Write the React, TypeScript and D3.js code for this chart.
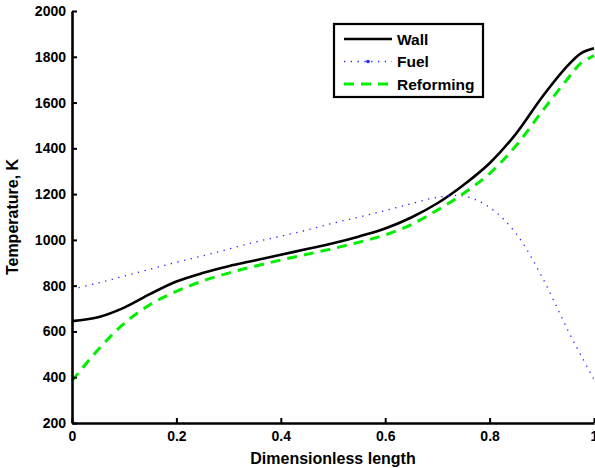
import React, { useEffect, useRef } from "react";
import * as d3 from "d3";

// dimensionless length positions
const xs = [0, 0.05, 0.1, 0.15, 0.2, 0.25, 0.3, 0.35, 0.4, 0.45, 0.5, 0.55, 0.6, 0.65, 0.7, 0.75, 0.8, 0.85, 0.9, 0.95, 0.975, 1.0];

// temperatures, K
const wall = [645, 662, 704, 764, 818, 855, 885, 910, 935, 960, 985, 1015, 1050, 1098, 1160, 1240, 1335, 1462, 1622, 1762, 1815, 1837];
const fuel = [785, 812, 842, 872, 902, 930, 960, 990, 1016, 1043, 1073, 1100, 1128, 1158, 1186, 1192, 1142, 1030, 840, 605, 495, 390];
const reforming = [384, 520, 635, 718, 775, 820, 855, 885, 912, 937, 962, 990, 1022, 1067, 1130, 1203, 1290, 1410, 1560, 1705, 1772, 1805];

const xTicks = [0, 0.2, 0.4, 0.6, 0.8, 1];
const yTicks = [200, 400, 600, 800, 1000, 1200, 1400, 1600, 1800, 2000];

const series = [
  { name: "Wall", values: wall, color: "#000", width: 2.6, dash: "" },
  { name: "Fuel", values: fuel, color: "#2222ff", width: 1.3, dash: "1.3 5.5" },
  { name: "Reforming", values: reforming, color: "#00ee00", width: 3, dash: "10 7" },
];

const FONT = "'Liberation Sans', Arial, Helvetica, sans-serif";

export default function App() {
  const ref = useRef<SVGSVGElement>(null);

  useEffect(() => {
    const svgEl = d3.select(ref.current);
    svgEl.selectAll("*").remove();

    const margin = { top: 11, left: 72, right: 1, bottom: 45 };
    const width = 595 - margin.left - margin.right;
    const height = 468 - margin.top - margin.bottom;

    const x = d3.scaleLinear().domain([0, 1]).range([0, width]);
    const y = d3.scaleLinear().domain([200, 2000]).range([height, 0]);

    const svg = svgEl.append("g")
      .attr("transform", "translate(" + margin.left + "," + margin.top + ")");

    const line = d3.line<number>()
      .x((d, i) => x(xs[i]))
      .y(d => y(d))
      .curve(d3.curveCatmullRom.alpha(0.5));

    series.forEach(s => {
      svg.append("path")
        .datum(s.values)
        .attr("d", line)
        .attr("fill", "none")
        .attr("stroke", s.color)
        .attr("stroke-width", s.width)
        .attr("stroke-dasharray", s.dash || null);
    });

    // axes, ticks pointing inward
    const xAxis = svg.append("g")
      .attr("transform", "translate(0," + height + ")")
      .call(d3.axisBottom(x).tickValues(xTicks).tickSizeInner(-5).tickSizeOuter(0).tickPadding(8)
        .tickFormat(d => d3.format("")(+d)));

    const yAxis = svg.append("g")
      .call(d3.axisLeft(y).tickValues(yTicks).tickSizeInner(-5).tickSizeOuter(0).tickPadding(6)
        .tickFormat(d3.format("d")));

    [xAxis, yAxis].forEach(a => {
      a.select(".domain").attr("stroke-width", 2.6);
      a.selectAll(".tick line").attr("stroke-width", 2);
      a.selectAll("text")
        .attr("font-family", FONT)
        .attr("font-weight", "bold")
        .attr("font-size", 14)
        .attr("fill", "#000");
    });

    svg.append("text")
      .attr("x", width / 2)
      .attr("y", height + 41)
      .attr("text-anchor", "middle")
      .attr("font-family", FONT)
      .attr("font-weight", "bold")
      .attr("font-size", 16)
      .text("Dimensionless length");

    svg.append("text")
      .attr("transform", "translate(" + (-54) + "," + (height / 2) + ") rotate(-90)")
      .attr("text-anchor", "middle")
      .attr("font-family", FONT)
      .attr("font-weight", "bold")
      .attr("font-size", 16)
      .text("Temperature, K");

    // legend
    const lg = svgEl.append("g").attr("transform", "translate(334,24)");
    lg.append("rect")
      .attr("width", 149)
      .attr("height", 73)
      .attr("fill", "#fff")
      .attr("stroke", "#000")
      .attr("stroke-width", 2.2);

    series.forEach((s, i) => {
      const yy = 15 + i * 22.5;
      lg.append("line")
        .attr("x1", 10).attr("x2", 58)
        .attr("y1", yy).attr("y2", yy)
        .attr("stroke", s.color)
        .attr("stroke-width", s.width)
        .attr("stroke-dasharray", s.dash || null);
      if (s.name === "Fuel") {
        lg.append("circle").attr("cx", 34).attr("cy", yy).attr("r", 1.8).attr("fill", s.color);
      }
      lg.append("text")
        .attr("x", 63)
        .attr("y", yy)
        .attr("dy", "0.36em")
        .attr("font-family", FONT)
        .attr("font-weight", "bold")
        .attr("font-size", 15.5)
        .text(s.name);
    });
  }, []);

  return (
    <svg ref={ref} width={595} height={468}
      style={{ position: "absolute", left: 0, top: 0, background: "#fff" }} />
  );
}
